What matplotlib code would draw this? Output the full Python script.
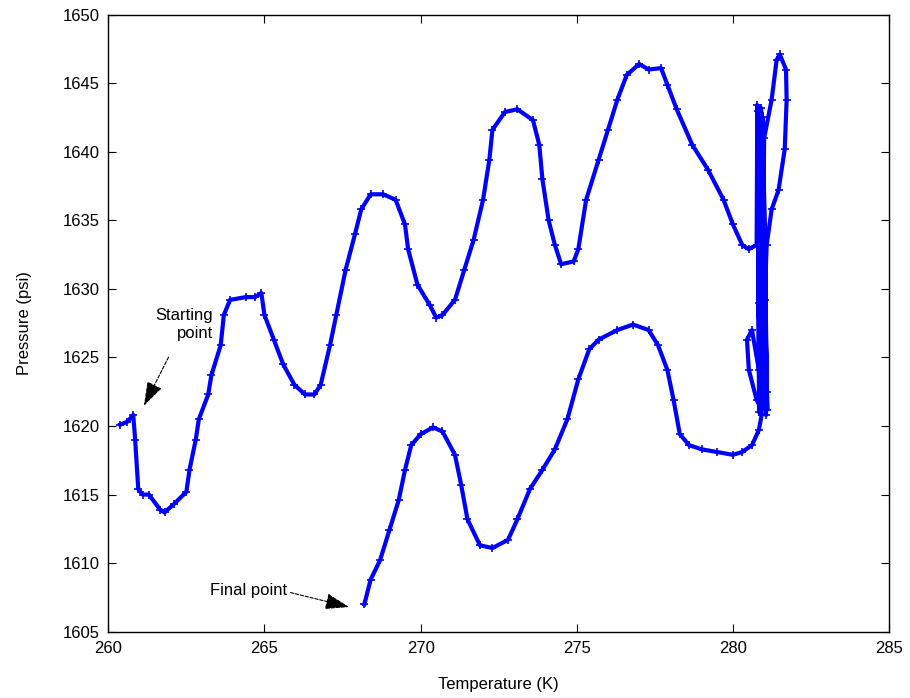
import numpy as np
import matplotlib
matplotlib.use("Agg")
import matplotlib.pyplot as plt

plt.rcParams['font.family'] = ['Liberation Sans', 'DejaVu Sans']

# traced trajectory (temperature in K, pressure in psi), in time order
temp = [260.38, 260.6, 260.8, 260.86, 260.96, 261.1, 261.3, 261.66, 261.8, 262.1,
        262.5, 262.6, 262.8, 262.9, 263.2, 263.3, 263.6, 263.7, 263.9, 264.4,
        264.7, 264.9, 265.0, 265.3, 265.6, 265.96, 266.3, 266.6, 266.8, 267.1,
        267.3, 267.6, 267.9, 268.1, 268.4, 268.8, 269.2, 269.5, 269.6, 269.9,
        270.3, 270.5, 270.7, 271.1, 271.4, 271.7, 272.0, 272.2, 272.3, 272.7,
        273.1, 273.6, 273.8, 273.9, 274.1, 274.3, 274.5, 274.9, 275.05, 275.3,
        275.7, 276.0, 276.3, 276.6, 277.0, 277.3, 277.7, 277.9, 278.2, 278.7,
        279.2, 279.7, 280.0, 280.3, 280.5, 280.76,
        280.78, 280.84, 280.8, 280.95, 280.86, 281.06, 280.9, 281.1, 280.96, 281.08,
        280.82, 280.92, 281.0, 281.24, 281.4, 281.5,
        281.7, 281.72, 281.66, 281.46, 281.24, 281.08, 281.02, 280.96, 280.92, 280.76,
        280.51, 280.45, 280.61, 280.83, 280.92, 280.83, 280.61, 280.29,
        280.0, 279.5, 279.0, 278.6, 278.3, 278.1, 277.9, 277.6, 277.3, 276.8,
        276.3, 275.7, 275.4, 275.05, 274.7, 274.3, 273.9, 273.5, 273.1, 272.8,
        272.3, 271.9, 271.5, 271.3, 271.1, 270.7, 270.4, 270.0, 269.7, 269.5,
        269.3, 269.0, 268.7, 268.4, 268.2]
pressure = [1620.1, 1620.3, 1620.8, 1619.0, 1615.4, 1615.0, 1615.0, 1613.9, 1613.7, 1614.3,
            1615.2, 1616.8, 1619.0, 1620.5, 1622.3, 1623.7, 1625.9, 1628.1, 1629.2, 1629.4,
            1629.4, 1629.7, 1628.1, 1626.3, 1624.5, 1623.0, 1622.3, 1622.3, 1623.0, 1625.9,
            1628.1, 1631.4, 1634.0, 1635.8, 1636.9, 1636.9, 1636.5, 1634.7, 1632.9, 1630.3,
            1628.8, 1627.9, 1628.1, 1629.2, 1631.4, 1633.6, 1636.5, 1639.4, 1641.6, 1642.9,
            1643.1, 1642.3, 1640.5, 1638.0, 1635.0, 1633.2, 1631.8, 1632.0, 1632.9, 1636.5,
            1639.4, 1641.6, 1643.8, 1645.6, 1646.4, 1646.0, 1646.1, 1644.9, 1643.1, 1640.5,
            1638.7, 1636.5, 1634.7, 1633.2, 1632.9, 1633.2,
            1643.4, 1621.0, 1643.0, 1621.5, 1642.8, 1620.8, 1643.2, 1621.2, 1642.5, 1622.5,
            1629.0, 1621.8, 1641.0, 1643.8, 1646.7, 1647.1,
            1646.0, 1643.8, 1640.2, 1637.2, 1635.8, 1633.2, 1629.2, 1625.6, 1621.2, 1621.9,
            1624.1, 1626.3, 1627.0, 1624.1, 1620.8, 1619.7, 1618.6, 1618.1,
            1617.9, 1618.1, 1618.3, 1618.6, 1619.4, 1621.9, 1624.1, 1625.9, 1627.0, 1627.4,
            1627.0, 1626.3, 1625.6, 1623.4, 1620.5, 1618.3, 1616.8, 1615.4, 1613.2, 1611.7,
            1611.1, 1611.3, 1613.2, 1615.7, 1617.9, 1619.6, 1619.9, 1619.4, 1618.6, 1616.8,
            1614.6, 1612.4, 1610.2, 1608.8, 1607.0]

xticks = [260, 265, 270, 275, 280, 285]
yticks = [1605, 1610, 1615, 1620, 1625, 1630, 1635, 1640, 1645, 1650]

fig = plt.figure(figsize=(9.1, 6.98), dpi=100)
ax = fig.add_axes([0.119, 0.095, 0.858, 0.884])

ax.plot(temp, pressure, color='#0000ff', lw=3, marker='+', ms=6, mew=1.2)

# annotations
ax.text(263.35, 1627.4, "Starting\npoint", ha='right', va='center',
        multialignment='right', fontsize=12, linespacing=1.3)
ax.annotate("", xy=(261.1, 1621.3), xytext=(261.97, 1625.2),
            arrowprops=dict(arrowstyle='-|>,head_length=1.5,head_width=0.5',
                            color='k', lw=0.8, ls=(0, (3, 1.5))))
ax.text(265.72, 1608.0, "Final point", ha='right', va='center', fontsize=12)
ax.annotate("", xy=(267.8, 1606.75), xytext=(265.75, 1607.9),
            arrowprops=dict(arrowstyle='-|>,head_length=1.5,head_width=0.5',
                            color='k', lw=0.8, ls=(0, (3, 1.5))))

ax.set_xlim(260, 285)
ax.set_ylim(1605, 1650)
ax.set_xticks(xticks)
ax.set_yticks(yticks)
ax.tick_params(direction='in', top=True, right=True, length=6, labelsize=12)
ax.tick_params(axis='x', pad=7)
ax.tick_params(axis='y', pad=6)
for s in ax.spines.values():
    s.set_linewidth(1.0)
ax.set_xlabel("Temperature (K)", fontsize=12, labelpad=15)
ax.set_ylabel("Pressure (psi)", fontsize=12, labelpad=22)

fig.savefig("out.png", dpi=100)
